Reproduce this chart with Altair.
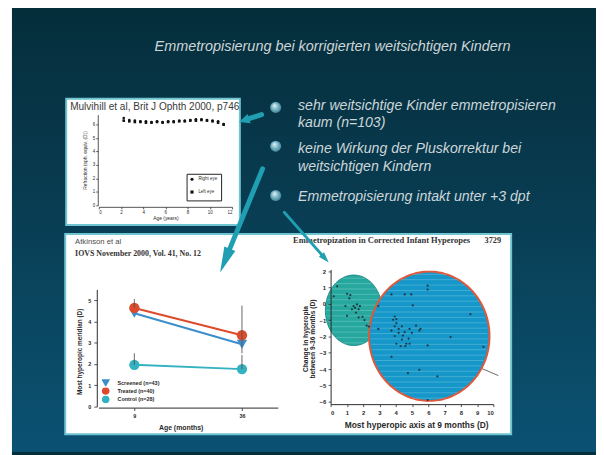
import math
import numpy as np
import pandas as pd
import altair as alt

# ---------------------------------------------------------------- data
title_text = "Emmetropisierung bei korrigierten weitsichtigen Kindern"
bullet_lines = [
    ["sehr weitsichtige Kinder emmetropisieren", "kaum (n=103)"],
    ["keine Wirkung der Pluskorrektur bei", "weitsichtigen Kindern"],
    ["Emmetropisierung intakt unter +3 dpt"],
]

# Panel 1 : Mulvihill et al.
mul_label = "Mulvihill et al, Brit J Ophth 2000, p746"
mul_eyes = ["Right eye", "Left eye"]
mul_age = [2.25, 2.75, 3.25, 3.75, 4.25, 4.75, 5.25, 5.75, 6.25, 6.75,
           7.25, 7.75, 8.25, 8.75, 9.25, 9.75, 10.25, 10.75, 11.25]
mul_right = [6.50, 6.35, 6.30, 6.25, 6.25, 6.20, 6.25, 6.20, 6.25, 6.25,
             6.30, 6.30, 6.35, 6.40, 6.40, 6.35, 6.30, 6.25, 6.05]
mul_left = [6.30, 6.25, 6.20, 6.20, 6.15, 6.15, 6.20, 6.15, 6.20, 6.20,
            6.25, 6.25, 6.30, 6.30, 6.35, 6.30, 6.25, 6.15, 6.00]
mul_xticks = [0, 2, 4, 6, 8, 10, 12]
mul_yticks = [0, 1, 2, 3, 4, 5, 6]

# Panel 2 : Atkinson et al.
atk_label = "Atkinson et al"
atk_ref = "IOVS November 2000, Vol. 41, No. 12"
atk_groups = ["Screened (n=43)", "Treated (n=40)", "Control (n=28)"]
atk_age = [9, 36]
atk_screened = [4.38, 2.93]
atk_treated = [4.63, 3.35]
atk_control = [1.96, 1.76]
atk_err_age = [9, 36, 9, 36]
atk_err_lo = [4.63, 2.50, 1.96, 1.76]
atk_err_hi = [5.05, 4.74, 2.50, 2.42]
atk_xticks = [9, 36]
atk_yticks = [0, 1, 2, 3, 4, 5]

# Panel 3 : Emmetropization scatter
em_title = "Emmetropization in Corrected Infant Hyperopes"
em_page = "3729"
em_x = [0.40, 0.20, 1.01, 1.21, 1.15, 0.91, 1.41, 1.62, 1.31, 1.72, 1.56, 1.01,
        1.72, 1.96, 2.08, 2.22, 2.36, 1.50, 1.80,
        4.95, 4.55, 5.96, 5.96, 5.05, 3.94, 3.84, 4.04, 3.94, 4.38, 4.18, 3.74,
        4.18, 4.55, 4.85, 4.99, 5.52, 2.93, 3.94, 4.38, 4.79, 4.04, 4.30, 4.59,
        4.85, 5.96, 7.37, 9.39, 3.74, 5.45, 6.56, 4.75, 5.96, 2.93, 3.74, 4.04,
        4.44, 8.59, 5.25, 5.45, 4.65]
em_y = [1.07, 0.46, 0.61, 0.53, 0.33, -0.14, -0.14, -0.04, -0.34, -0.34, -0.54, -0.74,
        -0.84, -0.80, -1.00, -1.34, -1.40, -0.25, -0.15,
        0.57, 0.57, 1.11, 0.87, -0.10, -0.78, -0.98, -1.18, -1.38, -1.38, -1.54, -1.64,
        -1.78, -1.74, -1.54, -1.78, -1.54, -1.54, -1.98, -2.19, -2.14, -2.45, -2.59, -2.59,
        -2.45, -2.55, -2.04, -2.64, -3.25, -4.05, -4.45, -4.25, -5.90, -0.14, 0.57, -0.94,
        -1.95, -0.64, -1.34, -1.64, -2.45]
em_reg_x = [0.0, 10.3]
em_reg_y = [0.0, -4.4]
em_xticks = [0, 1, 2, 3, 4, 5, 6, 7, 8, 9, 10]
em_yticks = [-6, -5, -4, -3, -2, -1, 0, 1, 2]
# hand-drawn highlight ellipses (centre x, centre y, radius x, radius y) in data units
teal_ellipse = (1.42, -0.40, 1.74, 2.16)
blue_ellipse = (6.06, -1.99, 3.70, 3.96)

# ---------------------------------------------------------------- layout helpers
W, H = 596, 447
SANS = "Liberation Sans"
SERIF = "Liberation Serif"
INK = "#2a2a2a"
DUMMY = pd.DataFrame({"k": [0]})


def X(p):
    return float(p - 8)


def Y(p):
    return float(p - 8)


def label(text, x, y, size, color, align="left", font=SANS, style="normal",
          weight="normal", angle=0):
    return alt.Chart(DUMMY).mark_text(
        text=text, align=align, baseline="middle", font=font, fontSize=size,
        fontStyle=style, fontWeight=weight, color=color, angle=angle,
    ).encode(x=alt.value(X(x)), y=alt.value(Y(y)))


def box(x0, y0, x1, y1, fill, stroke=None, sw=0):
    kw = dict(fill=fill, strokeWidth=sw)
    if stroke:
        kw["stroke"] = stroke
    return alt.Chart(DUMMY).mark_rect(**kw).encode(
        x=alt.value(X(x0)), x2=alt.value(X(x1)),
        y=alt.value(Y(y0)), y2=alt.value(Y(y1)))


def arrow(x0, y0, x1, y1, width, head_len, head_w, color):
    dx, dy = x1 - x0, y1 - y0
    d = math.hypot(dx, dy)
    ux, uy = dx / d, dy / d
    bx, by = x1 - ux * head_len * 0.75, y1 - uy * head_len * 0.75
    line = alt.Chart(DUMMY).mark_rule(
        color=color, strokeWidth=width, strokeCap="round").encode(
        x=alt.value(X(x0)), y=alt.value(Y(y0)),
        x2=alt.value(X(bx)), y2=alt.value(Y(by)))
    ang = math.degrees(math.atan2(ux, -uy)) % 360
    cx, cy = x1 - ux * head_len / 2, y1 - uy * head_len / 2
    w = head_w / head_len
    head = alt.Chart(DUMMY).mark_point(
        shape=f"M0,-1L{w:.3f},1L{-w:.3f},1Z", size=head_len ** 2, angle=ang,
        filled=True, color=color, opacity=1, strokeWidth=0).encode(
        x=alt.value(X(cx)), y=alt.value(Y(cy)))
    return [line, head]


def ellipse_frame(cx, cy, rx, ry, n=90):
    t = np.linspace(np.pi, 0, n)
    return pd.DataFrame({"x": cx + rx * np.cos(t),
                         "y": cy + ry * np.sin(t),
                         "y2": cy - ry * np.sin(t)})


def stripe_frame(cx, cy, rx, ry, step=0.33):
    # light horizontal scan lines of the scanned slide, clipped to an ellipse
    ys = np.arange(cy - ry + step / 2, cy + ry, step)
    half = rx * np.sqrt(np.clip(1 - ((ys - cy) / ry) ** 2, 0, 1)) * 0.97
    return pd.DataFrame({"x": cx - half, "x2": cx + half, "y": ys})


def axis_style(**kw):
    base = dict(grid=False, domainColor=INK, tickColor=INK, labelColor=INK,
                titleColor=INK, labelFont=SANS, titleFont=SANS, domainWidth=1,
                tickWidth=0.8, titleBaseline="middle", format="d", zindex=1)
    base.update(kw)
    return alt.Axis(**base)


layers = []

# ---------------------------------------------------------------- background
bg_grad = alt.LinearGradient(
    gradient="linear", x1=0, x2=0, y1=0, y2=1,
    stops=[alt.GradientStop(color="#052e3b", offset=0),
           alt.GradientStop(color="#08394d", offset=0.35),
           alt.GradientStop(color="#0a4964", offset=0.75),
           alt.GradientStop(color="#0b5173", offset=1)])
layers.append(alt.Chart(DUMMY).mark_rect(fill=bg_grad).encode(
    x=alt.value(0), x2=alt.value(W), y=alt.value(0), y2=alt.value(H)))
layers.append(box(8, 0, 12, 460, "white"))

# title
layers.append(label(title_text, 337, 44.5, 14.6, "#cdd5d8", align="center",
                    style="italic"))

# bullets
bullet_grad = alt.RadialGradient(
    gradient="radial", x1=0.38, y1=0.32, r1=0.02, x2=0.5, y2=0.5, r2=0.62,
    stops=[alt.GradientStop(color="#e2f2f5", offset=0),
           alt.GradientStop(color="#7fb9c8", offset=0.45),
           alt.GradientStop(color="#2a7188", offset=1)])
bullet_y = [105.7, 145.0, 195.0]
line_y = [[104.0, 121.7], [148.3, 166.0], [196.7]]
for by, lines, ys in zip(bullet_y, bullet_lines, line_y):
    layers.append(alt.Chart(DUMMY).mark_circle(
        size=125, fill=bullet_grad, opacity=1).encode(
        x=alt.value(X(279.3)), y=alt.value(Y(by))))
    for txt, ty in zip(lines, ys):
        layers.append(label(txt, 302, ty, 14.3, "#cdd6d9", style="italic"))

# panel boxes
layers.append(box(67, 97, 243, 225, "white", "#6fc4d2", 2))
layers.append(box(66, 234, 518, 437, "white", "#6fc4d2", 2))

# ---------------------------------------------------------------- panel 1
n1 = len(mul_age)
mul_df = pd.DataFrame({
    "age": mul_age + mul_age,
    "value": mul_right + mul_left,
    "eye": [mul_eyes[0]] * n1 + [mul_eyes[1]] * n1,
})
p1 = alt.Chart(mul_df).mark_point(filled=True, size=7, opacity=1).encode(
    x=alt.X("age:Q",
            scale=alt.Scale(domain=[0, 12], range=[X(100), X(235)], nice=False, zero=False),
            axis=axis_style(orient="bottom", offset=Y(206.5) - H, values=mul_xticks,
                            title="Age (years)", titleFontSize=5, titleFontWeight="normal",
                            labelFontSize=4.5, tickSize=2, labelPadding=1,
                            titleY=10.5, domainWidth=0.8)),
    y=alt.Y("value:Q",
            scale=alt.Scale(domain=[0, 6.75], range=[Y(205), Y(113)], nice=False, zero=False),
            axis=axis_style(orient="left", offset=-X(99), values=mul_yticks,
                            title="Refraction (sph. equiv. (D))", titleFontSize=5,
                            titleFontWeight="normal", labelFontSize=4.5, tickSize=2,
                            labelPadding=1, titleX=-13, domainWidth=0.8)),
    shape=alt.Shape("eye:N", scale=alt.Scale(domain=mul_eyes, range=["circle", "square"]),
                    legend=alt.Legend(orient="none", legendX=X(189), legendY=Y(173),
                                      title=None, labelFontSize=4.5, labelColor=INK,
                                      symbolSize=10, symbolFillColor="#111",
                                      symbolStrokeColor="#111", strokeColor="#222",
                                      padding=3, rowPadding=2, labelFont=SANS)),
    color=alt.value("#111"),
)
layers.append(p1)
layers.append(label(mul_label, 71, 105, 10.2, "#3a3a3a",
                    font="Liberation Sans Narrow, Liberation Sans, sans-serif"))

# ---------------------------------------------------------------- panel 2
atk_df = pd.DataFrame({
    "age": atk_age * 3,
    "value": atk_screened + atk_treated + atk_control,
    "group": [atk_groups[0]] * 2 + [atk_groups[1]] * 2 + [atk_groups[2]] * 2,
})
err_df = pd.DataFrame({"age": atk_err_age, "value": atk_err_lo, "hi": atk_err_hi})
atk_color = alt.Scale(domain=atk_groups, range=["#3c8ecb", "#dd4a2c", "#34b2bf"])
atk_shape = alt.Scale(domain=atk_groups, range=["triangle-down", "circle", "circle"])
x2 = alt.X("age:Q",
           scale=alt.Scale(domain=[0, 45], range=[X(99.7), X(281.5)], nice=False, zero=False),
           axis=axis_style(orient="bottom", offset=Y(410) - H, values=atk_xticks,
                           title="Age (months)", titleFontSize=7, titleFontWeight="bold",
                           labelFontSize=5.5, labelFontWeight="bold", tickSize=3,
                           labelPadding=3, titleX=X(183), titleY=20))
y2 = alt.Y("value:Q",
           scale=alt.Scale(domain=[0, 5.5], range=[Y(409), Y(290.2)], nice=False, zero=False),
           axis=axis_style(orient="left", offset=-X(98), values=atk_yticks,
                           title="Most hyperopic meridian (D)", titleFontSize=6.5,
                           titleFontWeight="bold", labelFontSize=5.5, labelFontWeight="bold",
                           tickSize=3, labelPadding=3, titleX=-17.3, titleY=Y(353)))
atk_legend = alt.Legend(orient="none", legendX=X(103), legendY=Y(381), title=None,
                        labelFontSize=5.5, labelFontWeight="bold", labelColor=INK,
                        labelFont=SANS, symbolSize=40, rowPadding=0.5, padding=0,
                        clipHeight=7.5, labelOffset=8, zindex=2)
atk_lines = alt.Chart(atk_df).mark_line(strokeWidth=2).encode(
    x=x2, y=y2, detail="group:N",
    color=alt.Color("group:N", scale=atk_color, legend=atk_legend))
atk_points = alt.Chart(atk_df).mark_point(filled=True, size=110, opacity=1).encode(
    x=x2, y=y2,
    color=alt.Color("group:N", scale=atk_color, legend=atk_legend),
    shape=alt.Shape("group:N", scale=atk_shape, legend=atk_legend))
atk_err = alt.Chart(err_df).mark_rule(color="#555", strokeWidth=0.9).encode(
    x=x2, y=y2, y2="hi:Q")
layers.append(alt.layer(atk_lines, atk_points, atk_err))
layers.append(label(atk_label, 76, 242, 7.8, "#4a4a4a"))
layers.append(label(atk_ref, 76, 254, 8.0, "#333333", font=SERIF, weight="bold"))

# ---------------------------------------------------------------- panel 3
em_df = pd.DataFrame({"x": em_x, "y": em_y})
reg_df = pd.DataFrame({"x": em_reg_x, "y": em_reg_y})
x3 = alt.X("x:Q",
           scale=alt.Scale(domain=[0, 10], range=[X(335), X(500)], nice=False, zero=False),
           axis=axis_style(orient="bottom", offset=Y(406.5) - H, values=em_xticks,
                           title="Most hyperopic axis at 9 months (D)", titleFontSize=8.5,
                           titleFontWeight="bold", labelFontSize=6, labelFontWeight="bold",
                           tickSize=2.5, labelPadding=2.5, titleX=X(421.7), titleY=21))
y3 = alt.Y("y:Q",
           scale=alt.Scale(domain=[-6.15, 2.1], range=[Y(406.5), Y(270)], nice=False, zero=False),
           axis=axis_style(orient="left", offset=-X(335), values=em_yticks,
                           title=["Change in hyperopia", "between 9-36 months (D)"],
                           titleFontSize=6.8, titleFontWeight="bold", titleLineHeight=7.5,
                           labelFontSize=6, labelFontWeight="bold", tickSize=2.5,
                           labelPadding=2.5, titleX=-25.5, titleY=Y(340)))
em_reg = alt.Chart(reg_df).mark_line(color="#444", strokeWidth=0.8).encode(x=x3, y=y3)
em_teal = alt.Chart(ellipse_frame(*teal_ellipse)).mark_area(
    fill="#27a89f", stroke="#1d8a84", strokeWidth=1, opacity=1).encode(
    x=x3, y=y3, y2="y2:Q")
em_teal_lines = alt.Chart(stripe_frame(*teal_ellipse)).mark_rule(
    color="#bfe8e4", opacity=0.35, strokeWidth=0.8).encode(x=x3, x2="x2:Q", y=y3)
em_blue = alt.Chart(ellipse_frame(*blue_ellipse)).mark_area(
    fill="#1597c9", stroke="#e0583c", strokeWidth=2, opacity=1).encode(
    x=x3, y=y3, y2="y2:Q")
em_blue_lines = alt.Chart(stripe_frame(*blue_ellipse)).mark_rule(
    color="#bfe6f5", opacity=0.35, strokeWidth=0.8).encode(x=x3, x2="x2:Q", y=y3)
em_pts = alt.Chart(em_df).mark_circle(size=5, color="#1c2f3a", opacity=0.9).encode(
    x=x3, y=y3)
layers.append(alt.layer(em_reg, em_teal, em_teal_lines, em_blue, em_blue_lines, em_pts))
layers.append(label(em_title, 297, 240.5, 8.6, "#333333", font=SERIF, weight="bold"))
layers.append(label(em_page, 491, 240.5, 8.4, "#333333", font=SERIF, weight="bold"))

# ---------------------------------------------------------------- arrows
ARROW = "#1f9fb1"
layers += arrow(265, 113, 242, 120.5, 5, 11, 10, ARROW)
layers += arrow(266, 168, 223, 273, 5, 26, 12, ARROW)
layers += arrow(288, 212, 333, 263, 2.8, 11, 7, ARROW)

chart = alt.layer(*layers).resolve_scale(
    x="independent", y="independent", color="independent", shape="independent"
).resolve_axis(x="independent", y="independent").resolve_legend(
    color="independent", shape="independent"
).properties(
    width=W, height=H, autosize=alt.AutoSizeParams(type="none"), padding=0,
    background="#052e3b",
).configure_view(stroke=None)

chart.save("out.html", embed_options={"renderer": "svg", "actions": False})
